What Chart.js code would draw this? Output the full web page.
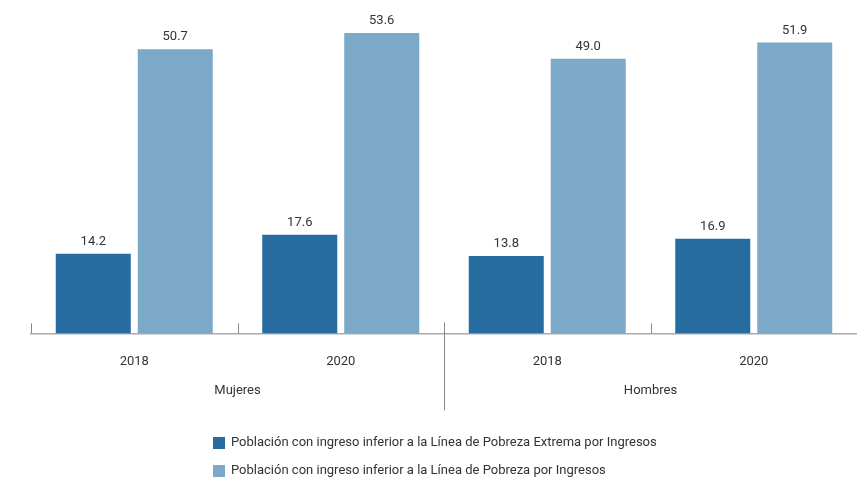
<!DOCTYPE html>
<html>
<head>
<meta charset="utf-8">
<script src="https://cdn.jsdelivr.net/npm/chart.js@4"></script>
<style>
  html, body { margin: 0; padding: 0; background: #fff; }
  #wrap { width: 857px; height: 479px; }
</style>
</head>
<body>
<div id="wrap"><canvas id="chart"></canvas></div>
<script>
// Chart data
const years = ['2018', '2020', '2018', '2020'];
const groups = ['Mujeres', 'Hombres'];
const extrema = [14.2, 17.6, 13.8, 16.9];
const pobreza = [50.7, 53.6, 49.0, 51.9];
const seriesNames = [
    'Población con ingreso inferior a la Línea de Pobreza Extrema por Ingresos',
    'Población con ingreso inferior a la Línea de Pobreza por Ingresos'
];

const FONT = 'Roboto';

// value labels above each bar
const valueLabels = {
    id: 'valueLabels',
    afterDatasetsDraw(chart) {
        const ctx = chart.ctx;
        ctx.save();
        ctx.font = '13px ' + FONT;
        ctx.fillStyle = '#333';
        ctx.textAlign = 'center';
        ctx.textBaseline = 'alphabetic';
        chart.data.datasets.forEach(function (ds, i) {
            chart.getDatasetMeta(i).data.forEach(function (bar, j) {
                ctx.fillText(ds.data[j].toFixed(1), bar.x, bar.y - 9);
            });
        });
        ctx.restore();
    }
};

// tick marks, separator between groups and group names (Mujeres / Hombres)
const axisMarks = {
    id: 'axisMarks',
    afterDraw(chart) {
        const ctx = chart.ctx;
        const x = chart.scales.x;
        const bottom = chart.chartArea.bottom;
        const half = (x.getPixelForValue(1) - x.getPixelForValue(0)) / 2;
        ctx.save();
        ctx.strokeStyle = '#888';
        ctx.lineWidth = 1;
        for (let i = 0; i <= years.length; i++) {
            const px = Math.round(x.getPixelForValue(i) - half) + 0.5;
            ctx.beginPath();
            if (i === 2) {
                ctx.moveTo(px, bottom - 11);
                ctx.lineTo(px, bottom + 77);
            } else {
                ctx.moveTo(px, bottom - 10);
                ctx.lineTo(px, bottom);
            }
            ctx.stroke();
        }
        ctx.font = '13px ' + FONT;
        ctx.fillStyle = '#333';
        ctx.textAlign = 'center';
        ctx.textBaseline = 'middle';
        groups.forEach(function (g, k) {
            const cx = (x.getPixelForValue(2 * k) + x.getPixelForValue(2 * k + 1)) / 2;
            ctx.fillText(g, cx, bottom + 57);
        });
        ctx.restore();
    }
};

// legend drawn as two stacked rows
const stackedLegend = {
    id: 'stackedLegend',
    afterDraw(chart) {
        const ctx = chart.ctx;
        ctx.save();
        ctx.font = '13px ' + FONT;
        ctx.textBaseline = 'middle';
        chart.data.datasets.forEach(function (ds, i) {
            const y = 443 + i * 28;
            ctx.fillStyle = ds.backgroundColor;
            ctx.fillRect(213, y - 6, 12, 12);
            ctx.fillStyle = '#333';
            ctx.fillText(ds.label, 231, y);
        });
        ctx.restore();
    }
};

const ctx = document.getElementById('chart').getContext('2d');
const chart = new Chart(ctx, {
    type: 'bar',
    data: {
        labels: years,
        datasets: [{
            label: seriesNames[0],
            data: extrema,
            backgroundColor: '#266ca0',
            barPercentage: 0.915,
            categoryPercentage: 0.794
        },
        {
            label: seriesNames[1],
            data: pobreza,
            backgroundColor: '#7ba9c7',
            barPercentage: 0.915,
            categoryPercentage: 0.794
        }]
    },
    options: {
        responsive: true,
        maintainAspectRatio: false,
        animation: false,
        layout: { padding: { left: 31, right: 0, top: 0, bottom: 88 } },
        plugins: {
            legend: { display: false },
            tooltip: { enabled: false }
        },
        scales: {
            y: {
                display: false,
                min: 0,
                max: 59.5
            },
            x: {
                grid: { display: false, drawTicks: false },
                border: { display: true, color: '#aaa', width: 1.5 },
                ticks: { color: '#333', padding: 21, font: { family: FONT, size: 13 } }
            }
        }
    },
    plugins: [valueLabels, axisMarks, stackedLegend]
});
</script>
</body>
</html>
